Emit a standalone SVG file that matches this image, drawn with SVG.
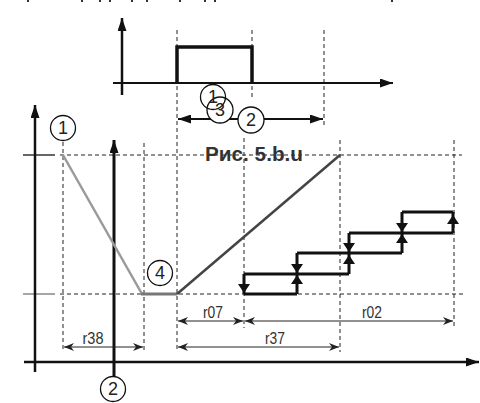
<svg xmlns="http://www.w3.org/2000/svg" width="480" height="403" viewBox="0 0 480 403">
<style>
.dash{stroke:#222;stroke-width:1;stroke-dasharray:4 3;fill:none}
.ax{stroke:#111;fill:none}
.circ{stroke:#111;stroke-width:1.3;fill:none}
.circw{stroke:#111;stroke-width:1.3;fill:#fff}
.num{font-family:"Liberation Sans",Arial,sans-serif;font-size:18px;fill:#222;text-anchor:middle}
.lbl{font-family:"Liberation Sans",Arial,sans-serif;font-size:17px;fill:#333;text-anchor:middle}
.dim{stroke:#222;stroke-width:1;fill:none}
.step{stroke:#111;stroke-width:3;fill:none}
.tri{fill:#111}
</style>
<defs>
<marker id="da" viewBox="0 0 10 8" refX="10" refY="4" markerWidth="10" markerHeight="8" markerUnits="userSpaceOnUse" orient="auto-start-reverse"><path d="M0,0 L10,4 L0,8 L3,4 z" fill="#222"/></marker>
<marker id="ba" viewBox="0 0 13 9" refX="13" refY="4.5" markerWidth="13" markerHeight="9" markerUnits="userSpaceOnUse" orient="auto-start-reverse"><path d="M0,0 L13,4.5 L0,9 z" fill="#111"/></marker>
</defs>
<g id="fragments" fill="#333">
<rect x="27" y="0" width="2" height="2"/><rect x="81" y="0" width="2" height="2"/><rect x="99" y="0" width="2" height="2"/><rect x="109" y="0" width="2" height="2"/><rect x="131" y="0" width="2" height="2"/><rect x="146" y="0" width="2" height="2"/><rect x="179" y="0" width="2" height="2"/><rect x="204" y="0" width="2" height="2"/><rect x="214" y="0" width="2" height="2"/><rect x="391" y="0" width="2" height="2"/>
</g>
<g id="grid">
<line class="dash" x1="177" y1="30" x2="177" y2="352"/>
<line class="dash" x1="252" y1="30" x2="252" y2="98"/>
<line class="dash" x1="324" y1="30" x2="324" y2="125"/>
<line class="dash" x1="63" y1="142" x2="63" y2="352"/>
<line class="dash" x1="144" y1="143" x2="144" y2="352"/>
<line class="dash" x1="244" y1="138" x2="244" y2="328"/>
<line class="dash" x1="340" y1="140" x2="340" y2="352"/>
<line class="dash" x1="454" y1="140" x2="454" y2="328"/>
<line class="dash" x1="60" y1="155" x2="462" y2="155"/>
<line class="dash" x1="60" y1="294" x2="464" y2="294"/>
<line x1="23" y1="155" x2="55" y2="155" stroke="#333" stroke-width="1.5"/>
<line x1="23" y1="294" x2="55" y2="294" stroke="#888" stroke-width="1.5"/>
</g>
<g id="axes">
<line class="ax" x1="122" y1="95" x2="122" y2="18" stroke-width="2.5" marker-end="url(#ba)"/>
<line class="ax" x1="113" y1="83" x2="393" y2="83" stroke-width="2" marker-end="url(#ba)"/>
<line class="ax" x1="35" y1="372" x2="35" y2="105" stroke-width="2.5" marker-end="url(#ba)"/>
<line class="ax" x1="114" y1="376" x2="114" y2="140" stroke-width="3" marker-end="url(#ba)"/>
<line class="ax" x1="24" y1="362" x2="479" y2="362" stroke-width="2.5" marker-end="url(#ba)"/>
</g>
<g id="pulse"><polyline points="177,83 177,47 252,47 252,83" fill="none" stroke="#111" stroke-width="3.5"/></g>
<g id="connectors">
<line class="ax" x1="178" y1="119" x2="323" y2="119" stroke-width="2" marker-start="url(#ba)" marker-end="url(#ba)"/>
<line x1="63" y1="155" x2="142" y2="294" stroke="#9a9a9a" stroke-width="2.5"/>
<line x1="141" y1="294" x2="177" y2="294" stroke="#777" stroke-width="3"/>
<line x1="177" y1="294" x2="340" y2="155" stroke="#444" stroke-width="2.5"/>
<line class="dim" x1="64" y1="347" x2="143" y2="347" marker-start="url(#da)" marker-end="url(#da)"/>
<line class="dim" x1="178" y1="321" x2="243" y2="321" marker-start="url(#da)" marker-end="url(#da)"/>
<line class="dim" x1="178" y1="347" x2="339" y2="347" marker-start="url(#da)" marker-end="url(#da)"/>
<line class="dim" x1="245" y1="321" x2="453" y2="321" marker-start="url(#da)" marker-end="url(#da)"/>
</g>
<g id="steps">
<path class="step" d="M244,294 H297 M244,274 H349 M297,253 H402 M349,233 H453 M402,212 H453 M244,274 V294 M297,253 V294 M349,233 V274 M402,212 V253 M453,212 V233"/>
<path class="tri" d="M238,284 h12 l-6,9 z M291,264 h12 l-6,9 z M343,243 h12 l-6,9 z M396,223 h12 l-6,9 z"/>
<path class="tri" d="M291,284 h12 l-6,-9 z M343,264 h12 l-6,-9 z M396,243 h12 l-6,-9 z M447,224 h12 l-6,-9 z"/>
</g>
<g id="c3"><circle class="circw" cx="220" cy="110" r="13"/><text class="num" x="220" y="116">3</text></g>
<g id="c1"><circle class="circ" cx="213" cy="97" r="12.5"/><text class="num" x="213" y="103">1</text></g>
<g id="c2top"><circle class="circw" cx="251" cy="120" r="13"/><text class="num" x="251" y="126">2</text></g>
<g id="c1main"><circle class="circw" cx="63" cy="128" r="12.5"/><text class="num" x="63" y="134">1</text></g>
<g id="c4"><circle class="circw" cx="160" cy="273" r="12.5"/><text class="num" x="160" y="279">4</text></g>
<g id="c2bot"><circle class="circw" cx="113" cy="389" r="12.5"/><text class="num" x="113" y="395">2</text></g>
<g id="labels">
<text class="lbl" x="93" y="344" textLength="21" lengthAdjust="spacingAndGlyphs">r38</text>
<text class="lbl" x="213" y="318" textLength="20" lengthAdjust="spacingAndGlyphs">r07</text>
<text class="lbl" x="275" y="344" textLength="20" lengthAdjust="spacingAndGlyphs">r37</text>
<text class="lbl" x="372" y="318" textLength="20" lengthAdjust="spacingAndGlyphs">r02</text>
<text x="254" y="161" font-family="Liberation Sans,Arial,sans-serif" font-weight="bold" font-size="20" fill="#333" text-anchor="middle" textLength="98" lengthAdjust="spacingAndGlyphs">Рис. 5.b.u</text>
</g>
</svg>
